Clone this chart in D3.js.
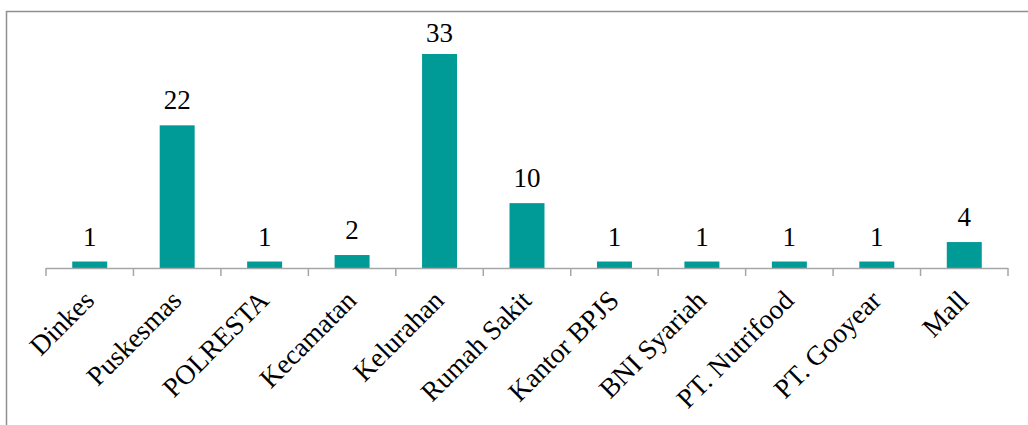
<!DOCTYPE html>
<html>
<head>
<meta charset="utf-8">
<script src="https://cdn.jsdelivr.net/npm/d3@7"></script>
<style>
  html, body { margin: 0; padding: 0; background: #fff; }
  svg { display: block; }
</style>
</head>
<body>
<div id="chart"></div>
<script>
// Counts per institution
var categories = ["Dinkes", "Puskesmas", "POLRESTA", "Kecamatan", "Kelurahan", "Rumah Sakit",
                  "Kantor BPJS", "BNI Syariah", "PT. Nutrifood", "PT. Gooyear", "Mall"];
var values = [1, 22, 1, 2, 33, 10, 1, 1, 1, 1, 4];

var W = 1028, H = 425;
var plot = {left: 46, right: 1008, top: 54, bottom: 268};
var barColor = "#009a97";
var axisColor = "#a6a6a6";
var fontFamily = "'Liberation Serif', serif";

var svg = d3.select("#chart").append("svg")
    .attr("width", W)
    .attr("height", H);

// outer frame (only the top and left edges fall inside the window)
svg.append("rect")
    .attr("x", 6.5).attr("y", 11.5)
    .attr("width", W).attr("height", H)
    .attr("fill", "none")
    .attr("stroke", "#8f8f8f")
    .attr("stroke-width", 1.5);

var x = d3.scaleBand()
    .domain(categories)
    .range([plot.left, plot.right])
    .paddingInner(0.6)
    .paddingOuter(0.3);

var y = d3.scaleLinear()
    .domain([0, d3.max(values)])
    .range([plot.bottom, plot.top]);

var g = svg.append("g");

g.selectAll("rect.bar")
  .data(values)
  .enter().append("rect")
    .attr("class", "bar")
    .attr("x", function(d, i) { return x(categories[i]); })
    .attr("width", x.bandwidth())
    .attr("y", function(d) { return y(d); })
    .attr("height", function(d) { return y(0) - y(d); })
    .attr("fill", barColor);

// value labels above each bar, kept inside the plot top
g.selectAll("text.val")
  .data(values)
  .enter().append("text")
    .attr("class", "val")
    .attr("x", function(d, i) { return x(categories[i]) + x.bandwidth() / 2; })
    .attr("y", function(d) { return Math.max(y(d) - 16, 42); })
    .attr("text-anchor", "middle")
    .attr("font-family", fontFamily)
    .attr("font-size", 27)
    .attr("fill", "#000")
    .text(function(d) { return d; });

// category axis with ticks between the categories
var step = x.step();
var axis = svg.append("g").attr("class", "x axis");
axis.append("line")
    .attr("x1", plot.left).attr("x2", plot.right)
    .attr("y1", plot.bottom + 0.5).attr("y2", plot.bottom + 0.5)
    .attr("stroke", axisColor)
    .attr("stroke-width", 1.5);

axis.selectAll("line.tick")
  .data(d3.range(categories.length + 1))
  .enter().append("line")
    .attr("class", "tick")
    .attr("x1", function(i) { return plot.left + i * step; })
    .attr("x2", function(i) { return plot.left + i * step; })
    .attr("y1", plot.bottom)
    .attr("y2", plot.bottom + 8)
    .attr("stroke", axisColor)
    .attr("stroke-width", 1.5);

axis.selectAll("text.cat")
  .data(categories)
  .enter().append("text")
    .attr("class", "cat")
    .attr("text-anchor", "end")
    .attr("font-family", fontFamily)
    .attr("font-size", 27.5)
    .attr("fill", "#000")
    .attr("transform", function(d) {
      var cx = x(d) + x.bandwidth() / 2 + 6;
      return "translate(" + cx + "," + (plot.bottom + 34) + ") rotate(-45)";
    })
    .text(function(d) { return d; });
</script>
</body>
</html>
